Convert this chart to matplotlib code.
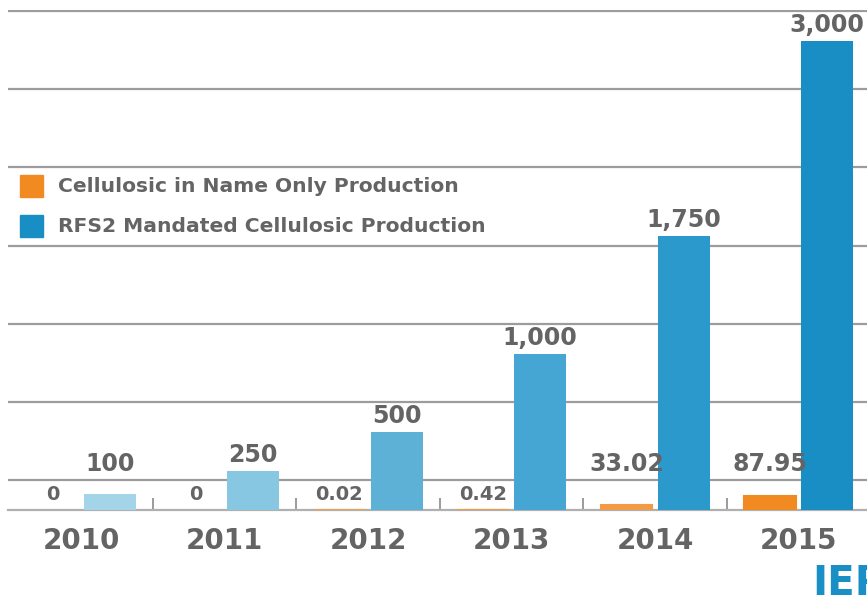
import numpy as np
import matplotlib
matplotlib.use("Agg")
import matplotlib.pyplot as plt

# ---- data ----
years = ["2010", "2011", "2012", "2013", "2014", "2015"]
name_only = [0, 0, 0.02, 0.42, 33.02, 87.95]
name_only_labels = ["0", "0", "0.02", "0.42", "33.02", "87.95"]
mandated = [100, 250, 500, 1000, 1750, 3000]
mandated_labels = ["100", "250", "500", "1,000", "1,750", "3,000"]

orange_cols = ["#f6a75a", "#f6a75a", "#f5a050", "#f49a45", "#f39a44", "#f28a22"]
blue_cols = ["#a4d4e8", "#87c7e1", "#5db0d6", "#46a6d3", "#2b99cb", "#188ec4"]
TXT = "#646464"
GRID = "#9c9c9c"

plt.rcParams["font.family"] = ["DejaVu Sans"]
plt.rcParams["font.weight"] = "bold"

fig = plt.figure(figsize=(8.67, 6), dpi=100)
ax = fig.add_axes([8/867, 90/600, 859/867, 500/600])

x = np.arange(len(years))
w = 0.36
off = 0.2
# tiny non-zero values still show as a thin orange line
edge = [c if v > 0 else "none" for c, v in zip(orange_cols, name_only)]
ax.bar(x - off, name_only, w, color=orange_cols, edgecolor=edge,
       linewidth=1.5, zorder=3)
ax.bar(x + off, mandated, w, color=blue_cols, zorder=3)

ax.set_xlim(-0.509, 5.477)
ax.set_ylim(0, 3199)

# gridlines (offset from the baseline as in the original)
grid_vals = np.arange(192, 3200, 500)
ax.set_yticks(grid_vals)
ax.yaxis.grid(True, color=GRID, lw=1.6, zorder=0)
ax.tick_params(axis="y", length=0, labelleft=False)

for s in ["top", "left", "right"]:
    ax.spines[s].set_visible(False)
ax.spines["bottom"].set_color("#b0b0b0")
ax.spines["bottom"].set_linewidth(1.6)
ax.spines["bottom"].set_zorder(2)

ax.set_xticks(x)
ax.set_xticklabels(years, fontsize=20, color=TXT, fontweight="bold")
ax.tick_params(axis="x", which="major", length=0, pad=12)
ax.set_xticks(x[:-1] + 0.5, minor=True)
ax.tick_params(axis="x", which="minor", direction="in", length=9,
               width=1.2, color="#8a8a8a")

# value labels
floor = grid_vals[0]
for i in range(len(years)):
    v = mandated[i]
    ax.annotate(mandated_labels[i], (x[i] + off, max(v, floor)),
                xytext=(0, 3), textcoords="offset points",
                ha="center", va="bottom", fontsize=17, color=TXT,
                fontweight="bold", zorder=5)
    v = name_only[i]
    if v < 1:
        ax.annotate(name_only_labels[i], (x[i] - off, v),
                    xytext=(0, 4), textcoords="offset points",
                    ha="center", va="bottom", fontsize=14, color=TXT,
                    fontweight="bold", zorder=5)
    else:
        ax.annotate(name_only_labels[i], (x[i] - off, max(v, floor)),
                    xytext=(0, 3), textcoords="offset points",
                    ha="center", va="bottom", fontsize=17, color=TXT,
                    fontweight="bold", zorder=5)

# legend drawn by hand to match the layout
leg = [("Cellulosic in Name Only Production", "#f28a22"),
       ("RFS2 Mandated Cellulosic Production", "#188ec4")]
for k, (lab, c) in enumerate(leg):
    yc = 1 - (186 + 40 * k) / 600
    fig.patches.append(plt.Rectangle((20/867, yc - 11/600), 23/867, 22/600,
                                     transform=fig.transFigure, color=c,
                                     zorder=5))
    fig.text(58/867, yc, lab, fontsize=14.6, color=TXT, fontweight="bold",
             va="center", ha="left")

# logo, cut by the right edge as in the original
fig.text(812/867, 1 - 584/600, "IER", fontsize=29, color="#1a8fc5",
         fontweight="bold", va="center", ha="left")

fig.savefig("out.png", dpi=100)
